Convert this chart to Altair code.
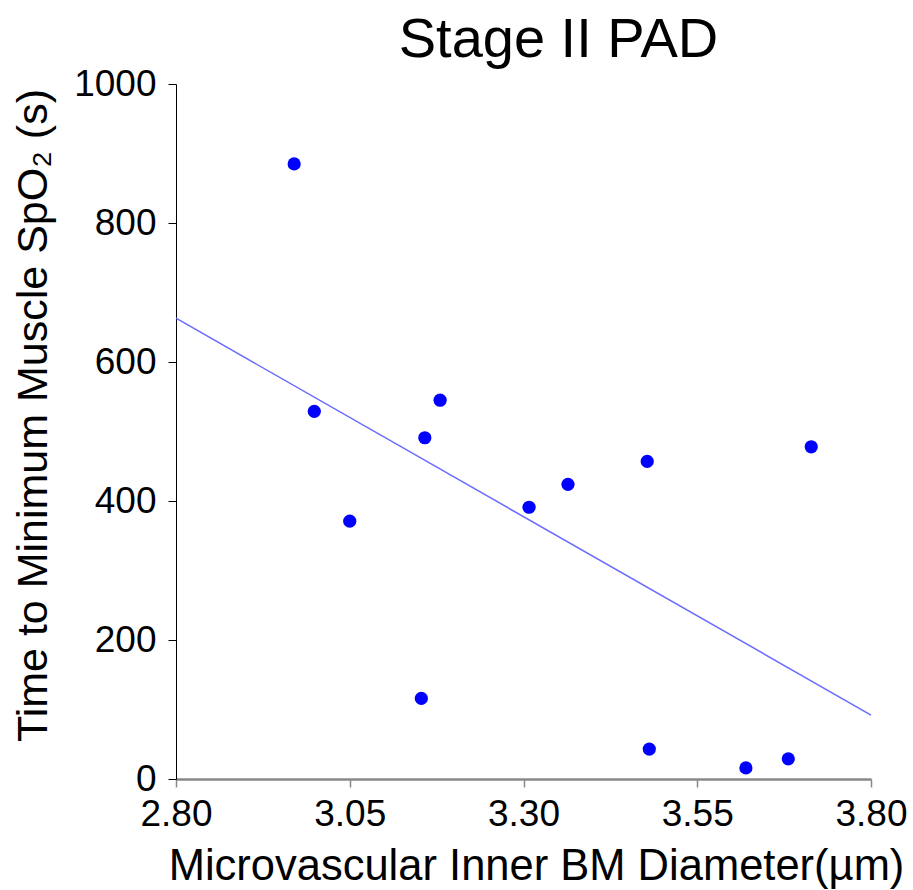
import altair as alt
import pandas as pd

# Scatter data
diameter = [2.970, 2.999, 3.050, 3.153, 3.158, 3.180, 3.308, 3.364, 3.478, 3.481, 3.620, 3.681, 3.714]
time_min = [885, 529, 371, 116, 491, 545, 391, 424, 457, 43, 16, 29, 478]

# Trend line endpoints
line_x = [2.80, 3.80]
line_y = [663, 92]

x_ticks = [2.80, 3.05, 3.30, 3.55, 3.80]
y_ticks = [0, 200, 400, 600, 800, 1000]

pts = pd.DataFrame({"x": diameter, "y": time_min})
ln = pd.DataFrame({"x": line_x, "y": line_y})

FONT = "Liberation Sans"

xscale = alt.Scale(domain=[2.80, 3.80], nice=False, zero=False)
yscale = alt.Scale(domain=[0, 1000], nice=False)

xaxis = alt.Axis(
    title="Microvascular  Inner BM Diameter(µm)",
    values=x_ticks, format=".2f", grid=False, labelFlush=False,
    labelFont=FONT, labelFontSize=37, labelColor="black", labelPadding=9,
    titleFont=FONT, titleFontSize=43.5, titleFontWeight="normal", titleColor="black",
    titlePadding=13, titleX=360,
    domainColor="#888888", domainWidth=2.5, tickColor="#888888", tickSize=8, tickWidth=1.5,
)
yaxis = alt.Axis(
    title="Time to Minimum Muscle SpO₂ (s)",
    values=y_ticks, format="d", grid=False, labelFlush=False,
    labelFont=FONT, labelFontSize=37, labelColor="black", labelPadding=12,
    titleFont=FONT, titleFontSize=43, titleFontWeight="normal", titleColor="black",
    titlePadding=18, titleY=331,
    domainColor="black", domainWidth=1, tickColor="black", tickSize=8, tickWidth=1,
)

points = alt.Chart(pts).mark_circle(size=175, color="#0000FF", opacity=1).encode(
    x=alt.X("x:Q", scale=xscale, axis=xaxis),
    y=alt.Y("y:Q", scale=yscale, axis=yaxis),
)
trend = alt.Chart(ln).mark_line(color="#6A6AFF", strokeWidth=1.5).encode(
    x=alt.X("x:Q", scale=xscale),
    y=alt.Y("y:Q", scale=yscale),
)

chart = (trend + points).properties(
    width=695, height=695,
    title=alt.TitleParams("Stage II PAD", font=FONT, fontSize=56, fontWeight="normal",
                          color="black", anchor="middle", dx=35, offset=-4),
    autosize=alt.AutoSizeParams(type="none"),
    padding={"left": 176, "top": 84, "right": 42, "bottom": 111},
).configure_view(stroke=None)

chart.save("out.html", embed_options={"renderer": "svg", "actions": False})
